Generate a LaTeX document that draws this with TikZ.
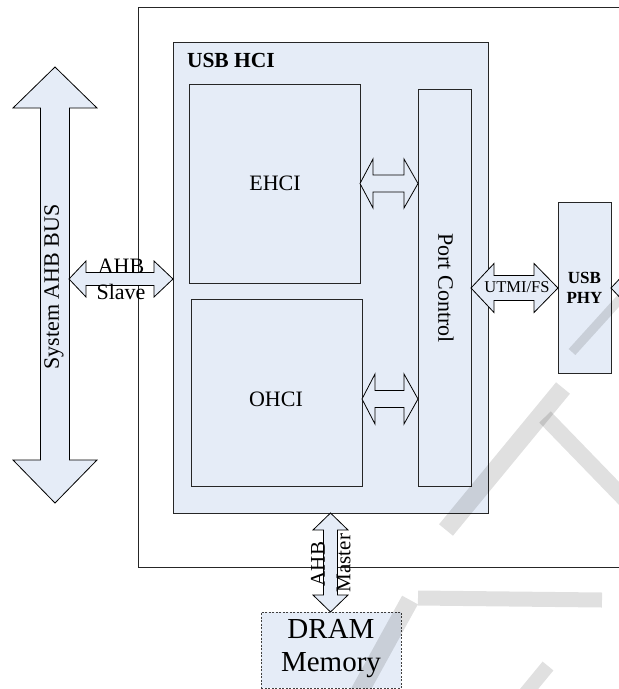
\documentclass[tikz,border=0pt]{standalone}
\usepackage{fontspec}
\setmainfont{Liberation Serif}
\usetikzlibrary{calc}
\definecolor{hcifill}{RGB}{229,236,247}
\newcommand\fs[1]{\fontsize{#1}{#1}\selectfont}
% horizontal double block arrow: #1 left tip, #2 right tip, #3 shaft half, #4 head half, #5/#6 head lengths
\newcommand\hdarrow[6]{\draw[blockarrow] let \p1=(#1), \p2=(#2) in
  (\x1,\y1) -- (\x1+#5,\y1+#4) -- (\x1+#5,\y1+#3) -- (\x2-#6,\y1+#3) -- (\x2-#6,\y1+#4) -- (\x2,\y1)
  -- (\x2-#6,\y1-#4) -- (\x2-#6,\y1-#3) -- (\x1+#5,\y1-#3) -- (\x1+#5,\y1-#4) -- cycle;}
% vertical double block arrow: #1 top tip, #2 bottom tip
\newcommand\vdarrow[6]{\draw[blockarrow] let \p1=(#1), \p2=(#2) in
  (\x1,\y1) -- (\x1+#4,\y1-#5) -- (\x1+#3,\y1-#5) -- (\x1+#3,\y2+#6) -- (\x1+#4,\y2+#6) -- (\x1,\y2)
  -- (\x1-#4,\y2+#6) -- (\x1-#3,\y2+#6) -- (\x1-#3,\y1-#5) -- (\x1-#4,\y1-#5) -- cycle;}
\begin{document}
\begin{tikzpicture}[x=1pt,y=-1pt,
  blk/.style={draw=black!85, line width=0.9pt, fill=hcifill, inner sep=0pt, outer sep=0pt, anchor=north west},
  blockarrow/.style={draw=black, line width=0.8pt, fill=hcifill, line join=miter},
  lbl/.style={inner sep=0pt, outer sep=0pt},
  wm/.style={draw=black, draw opacity=0.12, line cap=butt}]
\useasboundingbox (0,0) rectangle (619,689);
\clip (0,0) rectangle (619,689);
\fill[white] (0,0) rectangle (619,689);

% outer chip boundary
\node[blk, fill=white, minimum width=600pt, minimum height=560pt] (outer) at (138,7) {};

% USB HCI
\node[blk, minimum width=315pt, minimum height=471pt] (hci) at (173,42) {};
\node[lbl, anchor=base west, font=\fs{21.5}\bfseries] (hcit) at (187,67) {USB HCI};

\node[blk, minimum width=171pt, minimum height=199pt] (ehci) at (189,84) {};
\node[lbl, font=\fs{22}] (ehcit) at (275,183.5) {EHCI};

\node[blk, minimum width=171pt, minimum height=187pt] (ohci) at (191,299) {};
\node[lbl, font=\fs{22}] (ohcit) at (276,399) {OHCI};

\node[blk, minimum width=53pt, minimum height=397pt] (port) at (418,89) {};
\node[lbl, rotate=-90, font=\fs{22}] (portt) at (446,288) {Port Control};

% USB PHY
\node[blk, minimum width=53pt, minimum height=171pt] (phy) at (558,202) {};
\node[lbl, align=center, font=\fontsize{17}{20}\selectfont\bfseries] (phyt) at (584.5,287.5) {USB\\PHY};

% DRAM
\node[blk, draw=black!75, dash pattern=on 2pt off 1.5pt, line width=0.8pt, minimum width=140pt, minimum height=76pt] (dram) at (261,612) {};
\node[lbl, align=center, font=\fontsize{29}{33}\selectfont] (dramt) at (331,649) {DRAM\\Memory};

% System AHB bus
\coordinate (bustop) at (55,67);
\coordinate (busbot) at (55,503);
\vdarrow{bustop}{busbot}{14.5pt}{42pt}{41pt}{43pt}
\node[lbl, rotate=90, font=\fs{22}] (bust) at (54,287) {System AHB BUS};

% AHB slave
\coordinate (slaveL) at (69,279);
\hdarrow{slaveL}{hci.west |- slaveL}{6.5pt}{18pt}{17pt}{19pt}
\node[lbl, anchor=base, font=\fs{22}] (slave1) at (121,273) {AHB};
\node[lbl, anchor=base, font=\fs{22}] (slave2) at (121,299) {Slave};

% EHCI / OHCI to port control
\hdarrow{ehci.east}{port.west |- ehci.east}{8.5pt}{24.5pt}{13pt}{14pt}
\coordinate (oy) at (0,399);
\hdarrow{ohci.east |- oy}{port.west |- oy}{8.5pt}{25pt}{13pt}{14pt}

% UTMI/FS
\coordinate (uy) at (0,288);
\hdarrow{port.east |- uy}{phy.west |- uy}{12.5pt}{24.5pt}{23pt}{24pt}
\node[lbl, font=\fs{16.5}] (utmit) at (517,287.5) {UTMI/FS};
\coordinate (phyR) at (700,288);
\hdarrow{phy.east |- uy}{phyR}{12.5pt}{24.5pt}{23pt}{23pt}

% AHB master
\vdarrow{hci.south}{dram.north -| hci.south}{7pt}{17.5pt}{17pt}{17pt}
\node[lbl, rotate=90, font=\fs{21}] (mast1) at (318,564) {AHB};
\node[lbl, rotate=90, font=\fs{21}] (mast2) at (343.5,563) {Master};

% watermark
\draw[wm, line width=9pt] (630,288) -- (572,352);
\draw[wm, line width=18pt] (563,388) -- (446,530);
\draw[wm, line width=16pt] (545,417) -- (640,515);
\draw[wm, line width=15pt] (418,598) -- (602,600);
\draw[wm, line width=18pt] (410,600) -- (355,700);
\draw[wm, line width=14pt] (548,666) -- (520,700);
\end{tikzpicture}
\end{document}
